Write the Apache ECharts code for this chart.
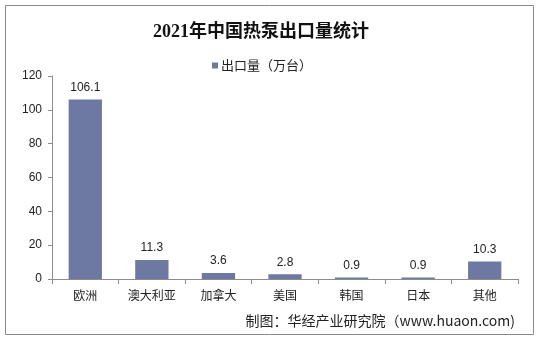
<!DOCTYPE html>
<html>
<head>
<meta charset="utf-8">
<script src="https://cdn.jsdelivr.net/npm/echarts@6/dist/echarts.min.js"></script>
<style>
html,body{margin:0;padding:0;background:#fff;}
#chart{width:539px;height:341px;}
</style>
</head>
<body>
<div id="chart"></div>
<script>
// 2021年中国热泵出口量（万台）
const categories = ['欧洲', '澳大利亚', '加拿大', '美国', '韩国', '日本', '其他'];
const exportVolume = [106.1, 11.3, 3.6, 2.8, 0.9, 0.9, 10.3];
const yTicks = [0, 20, 40, 60, 80, 100, 120];

const chart = echarts.init(document.getElementById('chart'), null, { renderer: 'canvas' });
const cjk = '"Noto Sans CJK SC", "Liberation Sans", Arial, sans-serif';

chart.setOption({
  backgroundColor: '#fff',
  animation: false,
  title: {
    text: '2021年中国热泵出口量统计',
    left: 148,
    top: 18,
    textStyle: {
      fontFamily: '"Liberation Serif", "Noto Sans CJK SC", serif',
      fontWeight: 'bold',
      fontSize: 18,
      color: '#111'
    }
  },
  legend: {
    data: ['出口量（万台）'],
    top: 54,
    left: 207,
    icon: 'rect',
    itemWidth: 6,
    itemHeight: 6,
    itemGap: 4,
    textStyle: { fontFamily: cjk, fontSize: 13, color: '#222', padding: [0, 0, 0, -2] }
  },
  grid: { left: 52, right: 21, top: 76, bottom: 62, containLabel: false },
  xAxis: {
    type: 'category',
    data: categories,
    axisLine: { lineStyle: { color: '#8c8c8c', width: 1 } },
    axisTick: { show: true, alignWithLabel: false, length: 5, lineStyle: { color: '#8c8c8c' } },
    axisLabel: { fontFamily: cjk, fontSize: 12, color: '#222', margin: 10 }
  },
  yAxis: {
    type: 'value',
    min: yTicks[0],
    max: yTicks[yTicks.length - 1],
    interval: yTicks[1] - yTicks[0],
    splitLine: { show: false },
    axisLine: { show: true, lineStyle: { color: '#8c8c8c', width: 1 } },
    axisTick: { show: true, length: 4, lineStyle: { color: '#8c8c8c' } },
    axisLabel: { fontFamily: '"Liberation Sans", Arial, sans-serif', fontSize: 12, color: '#222', margin: 10 }
  },
  series: [{
    name: '出口量（万台）',
    type: 'bar',
    data: exportVolume,
    barWidth: '50%',
    itemStyle: { color: '#6d78a3' },
    label: {
      show: true,
      position: 'top',
      distance: 6,
      fontFamily: '"Liberation Sans", Arial, sans-serif',
      fontSize: 12,
      color: '#222'
    }
  }],
  graphic: [
    {
      type: 'rect',
      shape: { x: 5.5, y: 5.5, width: 528, height: 329 },
      style: { fill: 'none', stroke: '#8a8a8a', lineWidth: 1 },
      silent: true
    },
    {
      type: 'text',
      right: 24,
      top: 314,
      style: {
        text: '制图：华经产业研究院（www.huaon.com)',
        fontFamily: cjk,
        fontSize: 14,
        fill: '#222'
      }
    }
  ]
});
</script>
</body>
</html>
